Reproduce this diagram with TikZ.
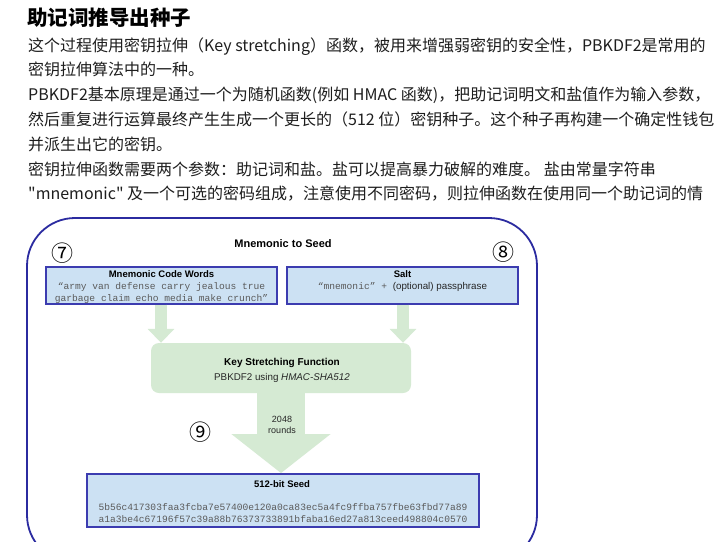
\documentclass[tikz,border=0pt]{standalone}
\usepackage{fontspec}
\setmainfont{Liberation Sans}
\setmonofont{Liberation Mono}
\newfontfamily\cjk{Noto Sans CJK SC}
\usetikzlibrary{arrows.meta,calc}
\definecolor{bodytext}{HTML}{1E1E1E}
\definecolor{frameblue}{HTML}{2B2BA0}
\definecolor{boxfill}{HTML}{CCE1F3}
\definecolor{boxline}{HTML}{3C3CB0}
\definecolor{greenfill}{HTML}{D5EAD3}
\definecolor{monogray}{HTML}{5A5A5A}
\tikzset{
  bodyline/.style={anchor=base west, inner sep=0pt, text=bodytext, font=\cjk\fontsize{16}{20}\selectfont},
  bluebox/.style={draw=boxline, line width=1.3pt, fill=boxfill, inner sep=0pt},
  seedbox/.style={draw=boxline, line width=1.8pt, fill=boxfill, inner sep=0pt},
  boxtitle/.style={inner sep=0pt, font=\bfseries\fontsize{9.5}{11}\selectfont, text=black},
  monotext/.style={inner sep=0pt, font=\ttfamily\fontsize{9.6}{11}\selectfont, text=monogray},
  sanstext/.style={inner sep=0pt, font=\fontsize{9.8}{11}\selectfont, text=black!85},
  circnum/.style={inner sep=0pt, font=\cjk\fontsize{22}{22}\selectfont, text=black},
  greenarrow/.style={draw=greenfill, line width=12pt},
}
\begin{document}
\begin{tikzpicture}[x=1pt,y=-1pt]
\useasboundingbox (0,0) rectangle (722,541);
\fill[white] (0,0) rectangle (722,541);

% heading and paragraph
\node[anchor=base west, inner sep=0pt, text=black, font=\cjk\bfseries\fontsize{20.5}{24}\selectfont] (title) at (27,25) {助记词推导出种子};
\node[bodyline] (l1) at (28,51) {这个过程使用密钥拉伸（Key stretching）函数，被用来增强弱密钥的安全性，PBKDF2是常用的};
\node[bodyline] (l2) at (28,75.8) {密钥拉伸算法中的一种。};
\node[bodyline] (l3) at (28,100.6) {PBKDF2基本原理是通过一个为随机函数(例如 HMAC 函数)，把助记词明文和盐值作为输入参数，};
\node[bodyline] (l4) at (28,125.4) {然后重复进行运算最终产生生成一个更长的（512 位）密钥种子。这个种子再构建一个确定性钱包};
\node[bodyline] (l5) at (28,150.2) {并派生出它的密钥。};
\node[bodyline] (l6) at (28,175) {密钥拉伸函数需要两个参数：助记词和盐。盐可以提高暴力破解的难度。 盐由常量字符串};
\node[bodyline] (l7) at (28,199.8) {"mnemonic" 及一个可选的密码组成，注意使用不同密码，则拉伸函数在使用同一个助记词的情};

% outer frame
\begin{scope}
\clip (0,0) rectangle (722,541);
\draw[frameblue, line width=1.8pt, rounded corners=48pt] (27,218) rectangle (537,563);
\end{scope}

\node[inner sep=0pt, font=\bfseries\fontsize{11}{13}\selectfont] (diagtitle) at (283,244) {Mnemonic to Seed};

% boxes
\node[bluebox, minimum width=231pt, minimum height=37pt] (words) at (161.5,285.5) {};
\node[bluebox, minimum width=231pt, minimum height=37pt] (salt) at (402.5,285.5) {};
\node[fill=greenfill, rounded corners=8pt, minimum width=260pt, minimum height=50pt, inner sep=0pt] (ksf) at (281,368) {};
\node[seedbox, minimum width=392pt, minimum height=53pt] (seed) at (283,500.5) {};

% arrows
\draw[greenarrow, -{Triangle[length=14pt,width=26pt]}] (161,304.5) coordinate (wa) -- (wa |- ksf.north);
\draw[greenarrow, -{Triangle[length=14pt,width=26pt]}] (403,304.5) coordinate (sa) -- (sa |- ksf.north);
\draw[draw=greenfill, line width=48pt, -{Triangle[length=39pt,width=97pt]}] (ksf.south) -- (ksf.south |- seed.north);

% texts in boxes
\node[boxtitle] (wordst) at (161.5,274.5) {Mnemonic Code Words};
\node[monotext, anchor=base] (words1) at (161.5,289.5) {“army van defense carry jealous true};
\node[monotext, anchor=base] (words2) at (161.5,301.5) {garbage claim echo media make crunch”};
\node[boxtitle] (saltt) at (402.5,274.5) {Salt};
\node[anchor=base, inner sep=0pt] (salt1) at (402.5,289.5) {\color{monogray}\ttfamily\fontsize{9.6}{11}\selectfont “mnemonic” + \color{black!85}\rmfamily\fontsize{9.8}{11}\selectfont(optional) passphrase};

\node[boxtitle, font=\bfseries\fontsize{10}{12}\selectfont] (ksft) at (282,363) {Key Stretching Function};
\node[sanstext, anchor=base] (ksf1) at (282,380) {PBKDF2 using \textit{HMAC-SHA512}};

\node[sanstext, font=\fontsize{9}{11}\selectfont, align=center] (rounds) at (282,425) {2048\\[-0.5pt]rounds};

\node[boxtitle] (seedt) at (282,484.5) {512-bit Seed};
\node[monotext, anchor=base] (seed1) at (283,510) {5b56c417303faa3fcba7e57400e120a0ca83ec5a4fc9ffba757fbe63fbd77a89};
\node[monotext, anchor=base] (seed2) at (283,522) {a1a3be4c67196f57c39a88b76373733891bfaba16ed27a813ceed498804c0570};

% circled numbers
\node[circnum] (n7) at (62,253) {⑦};
\node[circnum] (n8) at (503,252) {⑧};
\node[circnum] (n9) at (200.5,432.5) {⑨};
\end{tikzpicture}
\end{document}
